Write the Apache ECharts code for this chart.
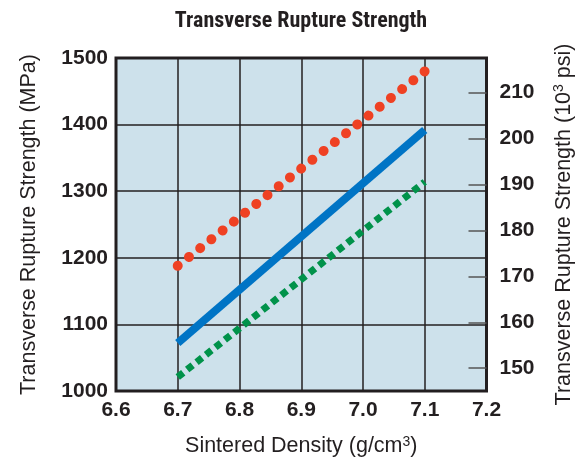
<!DOCTYPE html>
<html>
<head>
<meta charset="utf-8">
<script src="https://cdn.jsdelivr.net/npm/echarts@6/dist/echarts.min.js"></script>
<style>
    html, body { margin: 0; padding: 0; background: #fff; }
    #main { width: 583px; height: 466px; }
</style>
</head>
<body>
<div id="main"></div>
<script>
// density range (g/cm3)
var densityStart = 6.7;
var densityEnd = 7.1;
// strength at start / end (MPa)
var dottedLine = [1188, 1480];
var solidLine = [1072, 1392];
var dashedLine = [1021, 1314];
// right axis tick labels (10^3 psi)
var psiTicks = [150, 160, 170, 180, 190, 200, 210];
var mpaPerKsi = 6.894757;

var myChart;

window.onload = function () {
    initChart();
};

function pairs(vals) {
    return [[densityStart, vals[0]], [densityEnd, vals[1]]];
}

function initChart() {
    myChart = echarts.init(document.getElementById('main'));
    var lbl = {
        color: '#231f20',
        fontFamily: "'Liberation Sans', Arial, sans-serif",
        fontWeight: 'bold',
        fontSize: 21
    };
    // axis name style, with a small raised "3"
    var nameStyle = {
        fontSize: 21.5,
        color: '#231f20',
        fontFamily: "'Liberation Sans', Arial, sans-serif",
        rich: {
            sup: {
                fontSize: 14,
                color: '#231f20',
                fontFamily: "'Liberation Sans', Arial, sans-serif",
                verticalAlign: 'bottom',
                padding: [0, 0, 9, 0]
            }
        }
    };
    var options = {
        animation: false,
        title: {
            text: 'Transverse Rupture Strength',
            left: 296,
            textAlign: 'center',
            top: 5,
            textStyle: {
                fontFamily: "'Roboto Condensed', 'Liberation Sans Narrow', sans-serif",
                fontWeight: 'bold',
                fontSize: 22,
                color: '#231f20'
            }
        },
        grid: {
            left: 116,
            right: 96,
            top: 58,
            bottom: 75,
            show: true,
            backgroundColor: '#cde1eb',
            borderColor: '#231f20',
            borderWidth: 3
        },
        xAxis: {
            type: 'value',
            min: 6.6,
            max: 7.2,
            interval: 0.1,
            name: 'Sintered Density (g/cm{sup|3})',
            nameLocation: 'middle',
            nameGap: 44,
            nameTextStyle: nameStyle,
            axisLine: { show: false },
            axisTick: { show: false },
            axisLabel: Object.assign({ margin: 9, formatter: function (v) { return v.toFixed(1); } }, lbl),
            splitLine: { show: true, lineStyle: { color: '#231f20', width: 1.5 } }
        },
        yAxis: [
            {
                type: 'value',
                min: 1000,
                max: 1500,
                interval: 100,
                name: 'Transverse Rupture Strength (MPa)',
                nameLocation: 'middle',
                nameGap: 76,
                nameRotate: 90,
                nameTextStyle: nameStyle,
                axisLine: { show: false },
                axisTick: { show: false },
                axisLabel: Object.assign({ margin: 8, formatter: function (v) { return String(v); } }, lbl),
                splitLine: { show: true, lineStyle: { color: '#231f20', width: 1.5 } }
            },
            {
                type: 'value',
                position: 'right',
                min: 1000 / mpaPerKsi,
                max: 1500 / mpaPerKsi,
                name: 'Transverse Rupture Strength (10{sup|3} psi)',
                nameLocation: 'middle',
                nameGap: 66,
                nameRotate: 90,
                nameTextStyle: nameStyle,
                axisLine: { show: false },
                axisTick: {
                    show: true,
                    inside: true,
                    length: 18,
                    customValues: psiTicks,
                    lineStyle: { color: '#555', width: 1.5 }
                },
                axisLabel: Object.assign({ margin: 13, customValues: psiTicks, formatter: function (v) { return String(Math.round(v)); } }, lbl),
                splitLine: { show: false }
            }
        ],
        series: [
            {
                type: 'line',
                data: pairs(dashedLine),
                showSymbol: false,
                lineStyle: { color: '#00924a', width: 7, type: [7, 5] }
            },
            {
                type: 'line',
                data: pairs(solidLine),
                showSymbol: false,
                lineStyle: { color: '#0074c5', width: 8, cap: 'butt' }
            },
            {
                type: 'line',
                data: pairs(dottedLine),
                showSymbol: false,
                lineStyle: { color: '#ef4123', width: 10, type: [0.01, 14.27], cap: 'round' }
            }
        ]
    };
    myChart.setOption(options);
}
</script>
</body>
</html>
